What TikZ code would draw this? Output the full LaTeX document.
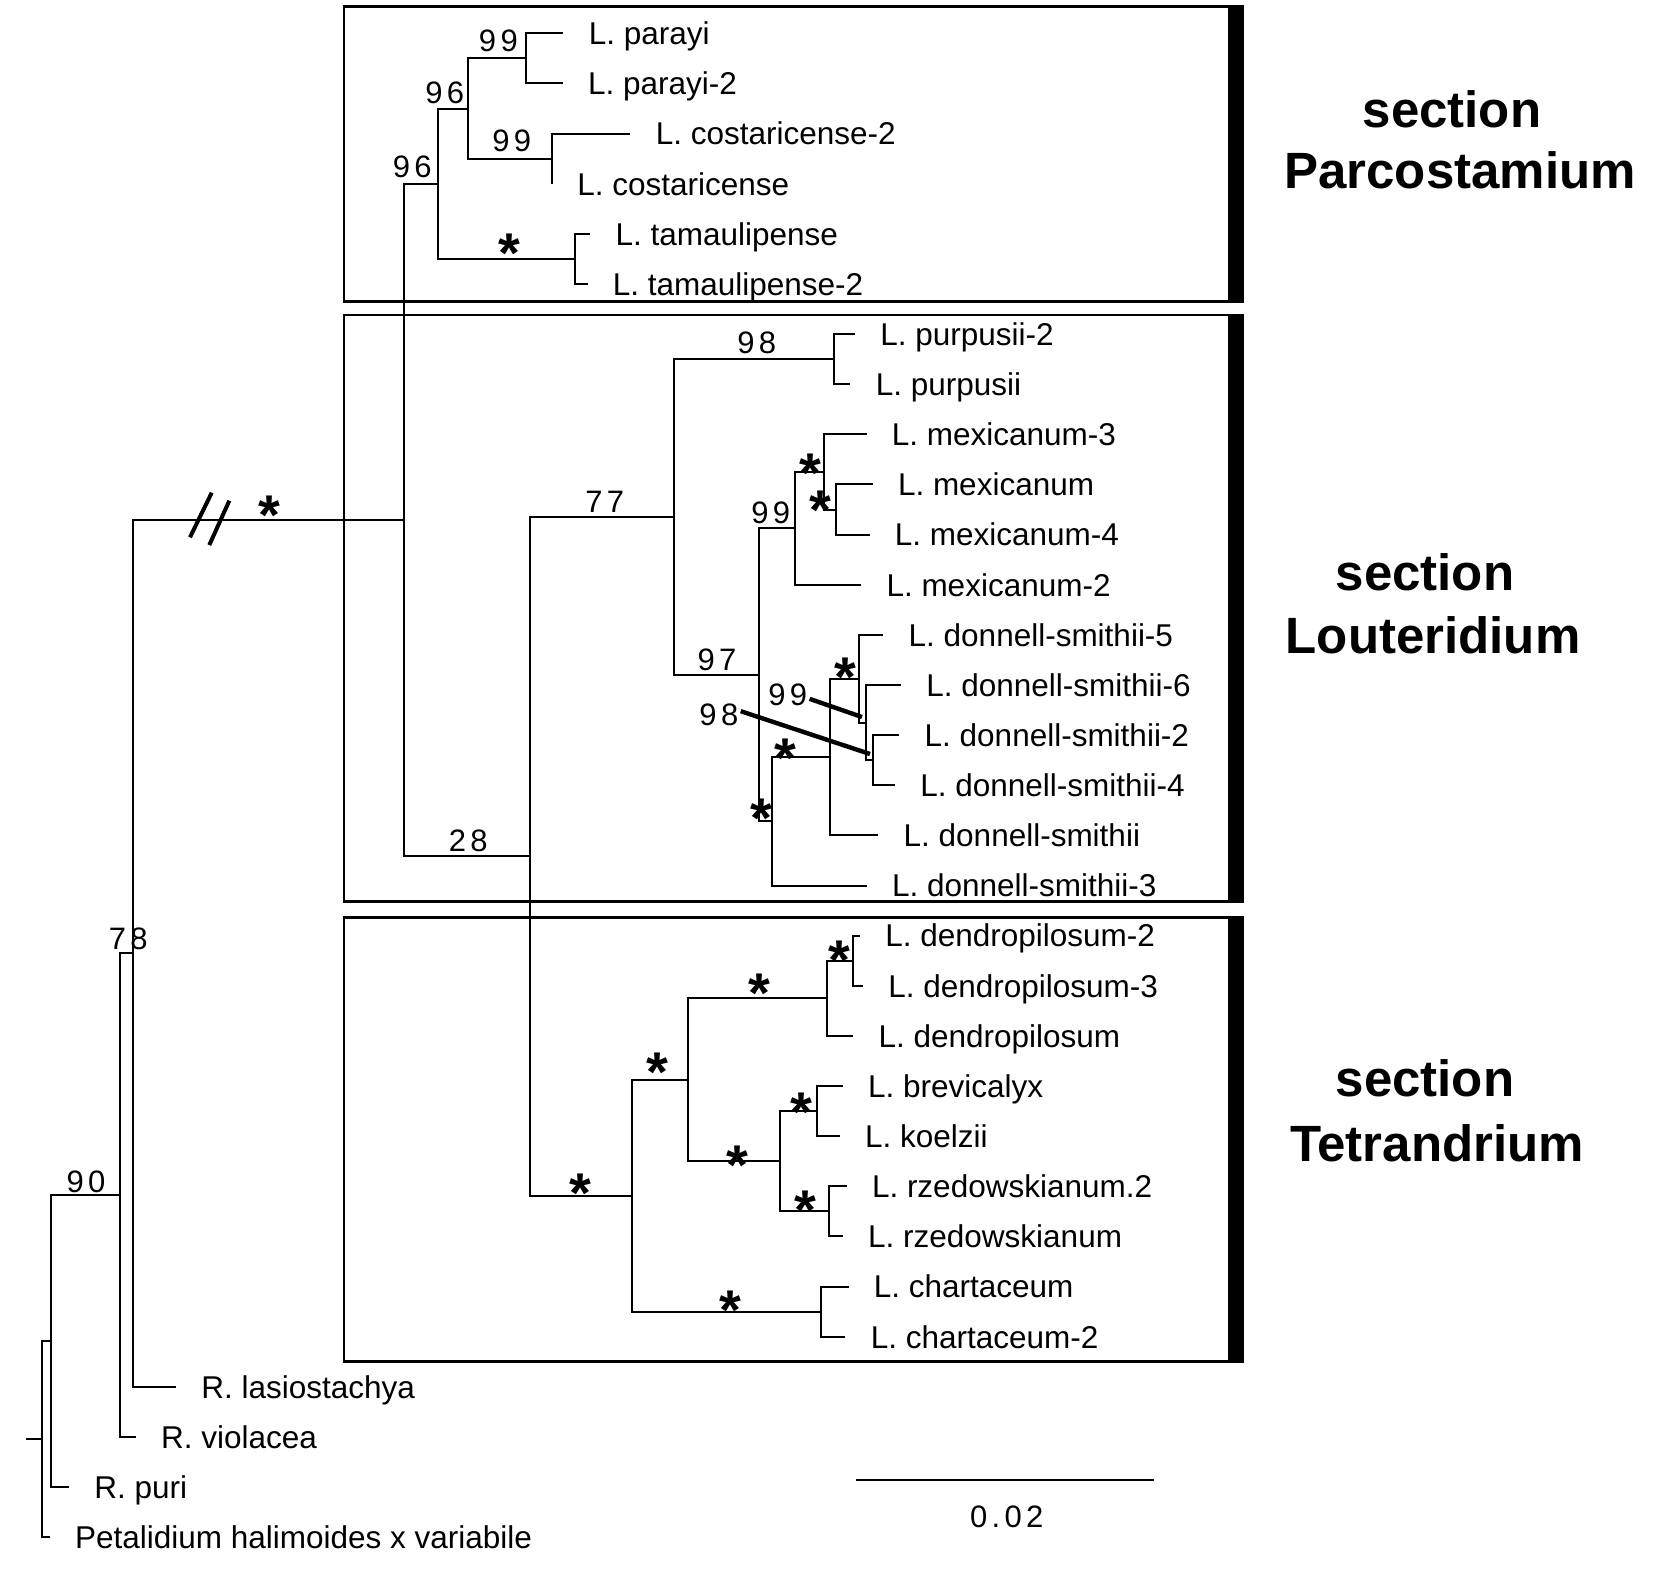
\documentclass[tikz,border=0pt]{standalone}
\usepackage{fontspec}
\setmainfont{Liberation Sans}
\newfontfamily\bsfont[LetterSpace=14]{Liberation Sans}

\begin{document}
\begin{tikzpicture}[
  x=0.5pt,y=-0.5pt,
  branch/.style={line width=1pt},
  leaf/.style={font=\fontsize{15.75}{18}\selectfont,inner sep=0pt,text height=11.3pt,text depth=0pt},
  bs/.style={font=\bsfont\fontsize{15.5}{18}\selectfont,inner sep=1pt},
  ast/.style={font=\bfseries\fontsize{28}{30}\selectfont,inner sep=0pt,yshift=-6pt},
  sect/.style={font=\bfseries\fontsize{25.5}{30}\selectfont,anchor=base,inner sep=0pt},
  frame/.style={line width=1.3pt},
  lead/.style={line width=2.2pt},
  brk/.style={line width=2pt}
]
  \useasboundingbox (0,0) rectangle (1654,1592);
  % section boxes
  \foreach \bt/\bb in {6.5/301.7,315/901.7,917.5/1361.7} {
    \draw[frame] (344,\bt) rectangle (1236,\bb);
    \fill (1228.3,{\bt-1.3}) rectangle (1244,{\bb+1.3});
  }
  \node[sect] (s1a) at (1452,127.7) {section};
  \node[sect] (s1b) at (1460,188.3) {Parcostamium};
  \node[sect] (s2a) at (1425,590) {section};
  \node[sect] (s2b) at (1433,653.3) {Louteridium};
  \node[sect] (s3a) at (1425,1096.7) {section};
  \node[sect] (s3b) at (1437,1161.7) {Tetrandrium};

  % tips and taxa
  \foreach \i/\tx/\nm in {0/563.4/L. parayi,1/562.7/L. parayi-2,2/630.4/L. costaricense-2,
      3/551.9/L. costaricense,4/590.2/L. tamaulipense,5/587.5/L. tamaulipense-2,
      6/855/L. purpusii-2,7/850.4/L. purpusii,8/866.5/L. mexicanum-3,9/872.6/L. mexicanum,
      10/869.5/L. mexicanum-4,11/861.1/L. mexicanum-2,12/883.3/L. donnell-smithii-5,
      13/901/L. donnell-smithii-6,14/899.3/L. donnell-smithii-2,15/895/L. donnell-smithii-4,
      16/878.3/L. donnell-smithii,17/866.7/L. donnell-smithii-3,18/860/L. dendropilosum-2,
      19/863/L. dendropilosum-3,20/853.1/L. dendropilosum,21/842.8/L. brevicalyx,
      22/839.7/L. koelzii,23/846.6/L. rzedowskianum.2,24/842.8/L. rzedowskianum,
      25/848.5/L. chartaceum,26/845.4/L. chartaceum-2,27/176/R. lasiostachya,
      28/135.8/R. violacea,29/68.9/R. puri,30/49.7/Petalidium halimoides x variabile} {
    \coordinate (t\i) at (\tx,{33.3+50.13*\i});
    \node[leaf,right=12.5pt] (l\i) at (t\i) {\nm};
  }

  % internal nodes
  \foreach \n/\nx/\ny in {nA/525.9/58.4,nB/551.9/158.6,nC/467.8/108.5,nD/574.9/258.9,
      nE/438.3/183.7,nF/403.5/520,n28/530.1/856.4,n77/674.4/517,nP/833.6/359.2,
      n97/759.3/674.8,nM/794.9/528.3,nM3/823.6/471.9,nM4/835.9/509.5,
      nDS/772.4/821.3,nDSa/829.8/757.1,nDSb/858.5/678.7,nDSc/866.2/722.6,nDSd/873/760.2,
      nT/632.3/1195.7,nT1/687.8/1079.8,nDe/826.7/998.3,nDe2/853.1/960.7,
      nBK/779.6/1161.2,nBr/817.1/1111.1,nRz/828.6/1211.4,nCh/821/1311.6,
      n78/133.3/953.4,n90/119.8/1195.2,nRp/50.9/1341.2,nRoot/42.1/1439.2}
    \coordinate (\n) at (\nx,\ny);
  \coordinate (rt) at (26,1439.2);

  % branches
  \foreach \a/\b in {nA/t0,nA/t1,nB/t2,nB/t3,nC/nA,nC/nB,nD/t4,nD/t5,nE/nC,nE/nD,
      nF/nE,nF/n28,n28/n77,n28/nT,n77/nP,n77/n97,nP/t6,nP/t7,n97/nM,n97/nDS,
      nM/nM3,nM/t11,nM3/t8,nM3/nM4,nM4/t9,nM4/t10,nDS/nDSa,nDS/t17,nDSa/nDSb,nDSa/t16,
      nDSb/t12,nDSb/nDSc,nDSc/t13,nDSc/nDSd,nDSd/t14,nDSd/t15,
      nT/nT1,nT/nCh,nT1/nDe,nT1/nBK,nDe/nDe2,nDe/t20,nDe2/t18,nDe2/t19,
      nBK/nBr,nBK/nRz,nBr/t21,nBr/t22,nRz/t23,nRz/t24,nCh/t25,nCh/t26,
      n78/nF,n78/t27,n90/n78,n90/t28,nRp/n90,nRp/t29,nRoot/nRp,nRoot/t30}
    \draw[branch] (\a) |- (\b);
  \draw[branch] (rt) -- (nRoot);
  \draw[brk] (190,537.3) -- (211.7,492.7);
  \draw[brk] (209.3,545) -- (229.3,500.7);

  % support values
  \foreach \n/\bx/\by/\v in {bs1/498.4/40.8/99,bs2/444.8/92.4/96,bs3/511.8/140.7/99,
      bs4/412.3/166.7/96,bs5/756.7/343.3/98,bs6/604.7/501.7/77,bs7/770.8/513.3/99,
      bs8/717/660/97,bs9/787.8/695/99,bs10/718.9/715/98,bs11/468.3/840.7/28,
      bs12/128.3/939/78,bs13/86.1/1181.7/90}
    \node[bs] (\n) at (\bx,\by) {\v};
  \foreach \n/\sx/\sy in {as1/509.8/241.7,as2/810.2/461.7,as3/820.6/498.3,as4/845.2/665,
      as5/785.8/746.7,as6/761/806.7,as7/269.3/503.3,as8/580.6/1181.7,as9/657.2/1060,
      as10/759.3/981.7,as11/838.9/948.3,as12/737.5/1153.3,as13/801.4/1100,
      as14/805.3/1198.3,as15/729.9/1298.3}
    \node[ast] (\n) at (\sx,\sy) {*};
  \coordinate (k99) at (862,717);
  \coordinate (k98) at (870,754);
  \draw[lead] (bs9.-10) -- (k99);
  \draw[lead] (bs10.10) -- (k98);

  % scale
  \coordinate (sb1) at (856,1480);
  \coordinate (sb2) at (1154,1480);
  \draw[frame] (sb1) -- (sb2);
  \node[bs] (sbl) at (1006.7,1516.7) {0.02};
\end{tikzpicture}
\end{document}
